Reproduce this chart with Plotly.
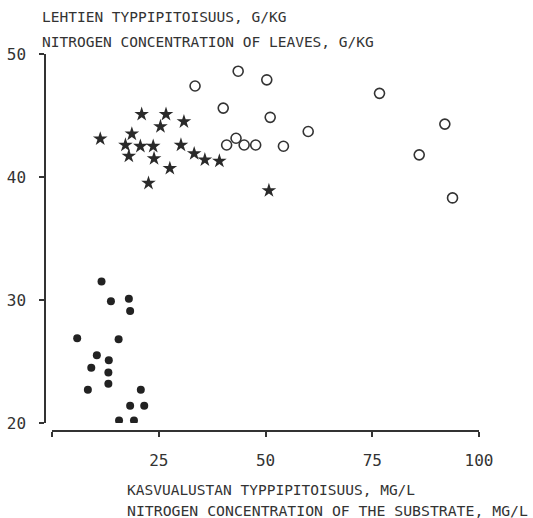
import plotly.graph_objects as go

# Data
filled_x = [11.6, 13.8, 18.0, 18.3, 5.9, 15.6, 10.5, 13.3, 9.2, 13.2, 13.2, 8.4, 20.8, 18.3, 21.6, 15.7, 19.2]
filled_y = [31.5, 29.9, 30.1, 29.1, 26.9, 26.8, 25.5, 25.1, 24.5, 24.1, 23.2, 22.7, 22.7, 21.4, 21.4, 20.2, 20.2]

star_x = [21.0, 26.7, 30.9, 25.4, 18.7, 11.3, 17.2, 20.7, 23.7, 30.2, 18.0, 23.9, 27.6, 22.6, 33.3, 35.8, 39.2, 50.8]
star_y = [45.1, 45.1, 44.5, 44.1, 43.5, 43.1, 42.6, 42.5, 42.5, 42.6, 41.7, 41.5, 40.7, 39.5, 41.9, 41.4, 41.3, 38.9]

open_x = [33.5, 43.6, 50.3, 40.1, 51.1, 43.1, 40.9, 45.0, 47.7, 54.2, 60.0, 76.7, 92.0, 86.0, 93.8]
open_y = [47.4, 48.6, 47.9, 45.6, 44.85, 43.15, 42.6, 42.6, 42.6, 42.5, 43.7, 46.8, 44.3, 41.8, 38.3]

x_ticks = [0, 25, 50, 75, 100]
x_ticktext = ["", "25", "50", "75", "100"]
y_ticks = [20, 30, 40, 50]

title_fi_y = "LEHTIEN TYPPIPITOISUUS, G/KG"
title_en_y = "NITROGEN CONCENTRATION OF LEAVES, G/KG"
title_fi_x = "KASVUALUSTAN TYPPIPITOISUUS, MG/L"
title_en_x = "NITROGEN CONCENTRATION OF THE SUBSTRATE, MG/L"

W, H = 533, 518
INK = "#333333"
FONT = "DejaVu Sans Mono"

fig = go.Figure()
fig.add_trace(go.Scatter(x=filled_x, y=filled_y, mode="markers",
                         marker=dict(symbol="circle", size=8, color="#222222", line=dict(width=0))))
fig.add_trace(go.Scatter(x=star_x, y=star_y, mode="markers",
                         marker=dict(symbol="star", size=11, color="#2a2a2a", line=dict(width=0))))
fig.add_trace(go.Scatter(x=open_x, y=open_y, mode="markers",
                         marker=dict(symbol="circle-open", size=10, color=INK, line=dict(width=1.6, color=INK))))

x0, x1 = 52, 479
y_top, y_bot = 54, 423
fig.update_layout(
    width=W, height=H,
    margin=dict(l=0, r=0, t=0, b=0, autoexpand=False),
    paper_bgcolor="white", plot_bgcolor="white",
    showlegend=False,
    font=dict(family=FONT, color=INK, size=14),
    xaxis=dict(domain=[x0 / W, x1 / W], range=[0, 100], anchor="free",
               position=(H - 431) / H, automargin=False,
               showline=True, linecolor=INK, linewidth=1.5,
               ticks="outside", ticklen=5, tickwidth=1.5, tickcolor=INK,
               tickvals=x_ticks, ticktext=x_ticktext, showgrid=False, zeroline=False,
               ticklabelstandoff=10, tickfont=dict(family=FONT, size=16, color=INK)),
    yaxis=dict(domain=[(H - y_bot) / H, (H - y_top) / H], range=[20, 50], anchor="free",
               position=45 / W, automargin=False,
               showline=True, linecolor=INK, linewidth=1.5,
               ticks="outside", ticklen=5, tickwidth=1.5, tickcolor=INK,
               tickvals=y_ticks, showgrid=False, zeroline=False,
               ticklabelstandoff=10, tickfont=dict(family=FONT, size=16, color=INK)),
)

def ann(text, xpx, ypx, size):
    fig.add_annotation(text=text, xref="paper", yref="paper", x=xpx / W, y=1 - ypx / H,
                       xanchor="left", yanchor="middle", showarrow=False,
                       font=dict(family=FONT, size=size, color=INK))

ann(title_fi_y, 40, 17, 14.5)
ann(title_en_y, 40, 42, 14.5)
ann(title_fi_x, 125, 490, 14.5)
ann(title_en_x, 125, 510, 14.8)

fig.write_html("out.html")
